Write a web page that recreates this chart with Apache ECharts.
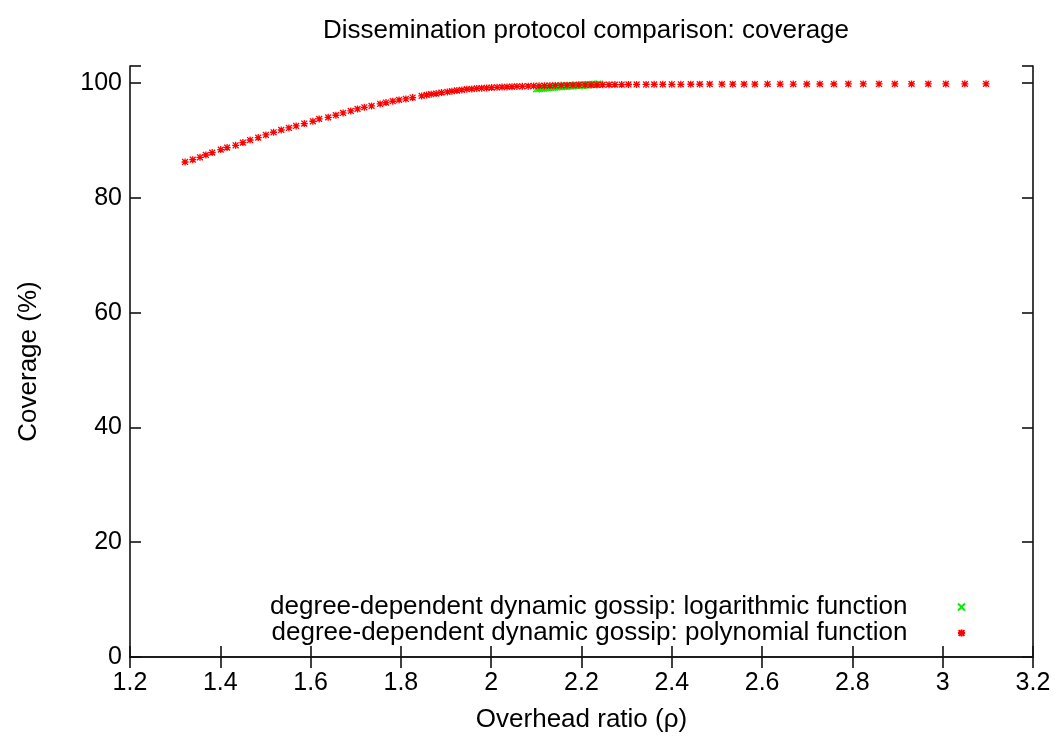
<!DOCTYPE html>
<html>
<head>
<meta charset="utf-8">
<script src="https://cdn.jsdelivr.net/npm/echarts@6/dist/echarts.min.js"></script>
<style>
html,body{margin:0;padding:0;background:#fff;}
#chart{width:1059px;height:740px;}
</style>
</head>
<body>
<div id="chart"></div>
<script>
const titleText = 'Dissemination protocol comparison: coverage';
const xName = 'Overhead ratio (ρ)';
const yName = 'Coverage (%)';
const seriesNames = [
  'degree-dependent dynamic gossip: logarithmic function',
  'degree-dependent dynamic gossip: polynomial function'
];

const greenX = [2.100,2.104,2.108,2.112,2.116,2.120,2.124,2.128,2.132,2.136,2.140,2.144,2.148,2.152,2.156,2.160,2.164,2.168,2.172,2.176,2.180,2.184,2.188,2.192,2.196,2.200,2.204,2.208,2.212,2.216,2.220,2.224,2.228,2.232,2.236,2.240];
const greenY = [99.02,99.06,99.08,99.12,99.15,99.18,99.22,99.24,99.27,99.30,99.33,99.35,99.38,99.40,99.43,99.45,99.47,99.50,99.52,99.54,99.56,99.58,99.60,99.62,99.64,99.66,99.68,99.70,99.72,99.73,99.75,99.77,99.78,99.80,99.82,99.84];

const redX = [1.322,1.339,1.355,1.368,1.382,1.401,1.415,1.434,1.450,1.466,1.484,1.501,1.518,1.535,1.552,1.568,1.586,1.605,1.619,1.639,1.656,1.672,1.689,1.704,1.719,
  1.735,1.754,1.767,1.782,1.796,1.811,1.826,1.846,1.857,1.867,1.878,1.890,1.903,1.913,1.924,1.935,1.946,1.957,1.968,1.979,1.990,2.001,
  2.013,2.024,2.035,2.046,2.057,2.069,2.082,2.094,2.106,2.118,2.130,2.142,2.155,2.168,2.181,2.194,2.208,2.221,2.234,2.247,2.261,2.274,
  2.289,2.304,2.322,2.343,2.361,2.380,2.400,2.420,2.442,2.462,2.484,2.511,2.535,2.560,2.584,2.612,2.640,2.669,2.699,2.728,2.759,2.791,2.824,2.859,2.894,2.931,2.968,3.007,3.049,3.096];
const redY = [86.27,86.68,87.09,87.49,87.91,88.43,88.78,89.18,89.65,90.10,90.52,90.98,91.45,91.85,92.20,92.55,92.97,93.37,93.77,94.05,94.42,94.82,95.17,95.52,95.80,
  96.04,96.39,96.63,96.86,97.09,97.26,97.50,97.78,97.96,98.08,98.20,98.38,98.48,98.60,98.73,98.83,98.95,99.00,99.08,99.13,99.18,99.25,
  99.29,99.33,99.36,99.40,99.43,99.46,99.49,99.52,99.55,99.57,99.59,99.61,99.63,99.65,99.67,99.69,99.70,99.72,99.73,99.74,99.75,99.76,
  99.77,99.78,99.78,99.79,99.80,99.80,99.81,99.81,99.82,99.82,99.83,99.83,99.84,99.84,99.84,99.85,99.85,99.85,99.86,99.86,99.86,99.87,99.87,99.87,99.88,99.88,99.88,99.88,99.89,99.89];

const xMin = 1.2, xMax = 3.2, xStep = 0.2;
const yMin = 0, yMax = 103, yStep = 20;

const FONT = 'Liberation Sans, Arial, sans-serif';
const FS = 25;
const FT = 26;
const crossPath = 'path://M0,0L10,10M10,0L0,10';
const starPath = 'path://M0,0L10,10M10,0L0,10M5,-1L5,11M-1,5L11,5';

const greenData = greenX.map((x, i) => [x, greenY[i]]);
const redData = redX.map((x, i) => [x, redY[i]]);

const axisLine = {show: true, lineStyle: {color: '#111', width: 1.6}};
const tick = {show: true, inside: true, length: 11, lineStyle: {color: '#111', width: 1.6}};

const chart = echarts.init(document.getElementById('chart'), null, {renderer: 'canvas'});
const legendCommon = {
  orient: 'horizontal', align: 'right', padding: 0,
  itemWidth: 98, itemHeight: 7, symbolKeepAspect: true,
  right: 93,
  textStyle: {fontFamily: FONT, fontSize: FT, color: '#000'},
  selectedMode: false
};
chart.setOption({
  animation: false,
  backgroundColor: '#fff',
  title: {
    text: titleText, left: 581, top: 13, textAlign: 'center',
    textStyle: {fontFamily: FONT, fontSize: FT, fontWeight: 'normal', color: '#000'}
  },
  legend: [
    Object.assign({}, legendCommon, {top: 594, data: [{name: seriesNames[0], icon: crossPath}]}),
    Object.assign({}, legendCommon, {top: 620, data: [{name: seriesNames[1], icon: starPath}]})
  ],
  grid: {left: 130, right: 26, top: 66, bottom: 83, containLabel: false},
  xAxis: [
    {
      type: 'value', position: 'bottom', min: xMin, max: xMax, interval: xStep,
      name: xName, nameLocation: 'middle', nameGap: 50,
      nameTextStyle: {fontFamily: FONT, fontSize: FT, color: '#000'},
      axisLine: axisLine, axisTick: tick, splitLine: {show: false},
      axisLabel: {fontFamily: FONT, fontSize: FS, color: '#000', margin: 14}
    },
    {
      type: 'value', position: 'top', min: xMin, max: xMax, interval: xStep,
      axisLine: axisLine, axisTick: tick, splitLine: {show: false},
      axisLabel: {show: false}
    }
  ],
  yAxis: [
    {
      type: 'value', position: 'left', min: yMin, max: yMax, interval: yStep,
      name: yName, nameLocation: 'middle', nameGap: 88, nameRotate: 90,
      nameTextStyle: {fontFamily: FONT, fontSize: FT, color: '#000'},
      axisLine: axisLine, axisTick: tick, splitLine: {show: false},
      axisLabel: {fontFamily: FONT, fontSize: FS, color: '#000', margin: 8,
        formatter: v => (Math.abs(v % yStep) < 1e-9 ? String(v) : '')}
    },
    {
      type: 'value', position: 'right', min: yMin, max: yMax, interval: yStep,
      axisLine: axisLine, axisTick: tick, splitLine: {show: false},
      axisLabel: {show: false}
    }
  ],
  series: [
    {
      name: seriesNames[0], type: 'scatter', data: greenData,
      symbol: crossPath, symbolSize: 7,
      itemStyle: {color: '#00ee00', borderColor: '#00ee00', borderWidth: 1.2, opacity: 1}
    },
    {
      name: seriesNames[1], type: 'scatter', data: redData,
      symbol: starPath, symbolSize: 7,
      itemStyle: {color: '#ff0000', borderColor: '#ff0000', borderWidth: 1.3, opacity: 1}
    }
  ]
});
</script>
</body>
</html>
